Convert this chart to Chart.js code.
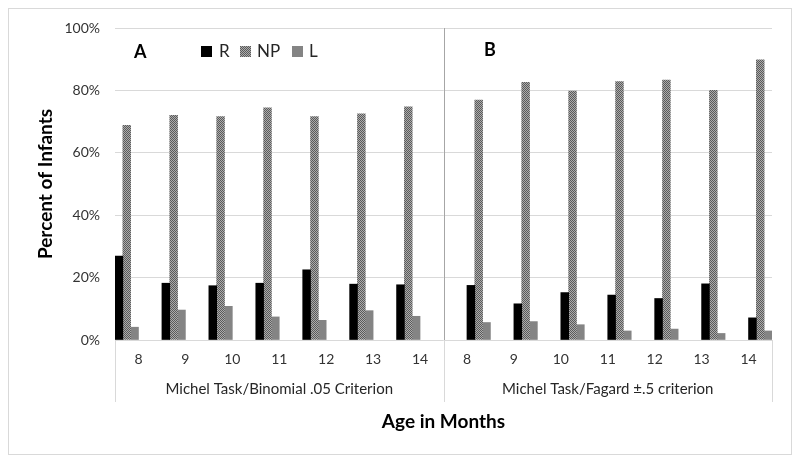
<!DOCTYPE html>
<html>
<head>
<meta charset="utf-8">
<script src="https://cdn.jsdelivr.net/npm/chart.js@4"></script>
<style>
html,body{margin:0;padding:0;background:#fff;}
#c{display:block;}
</style>
</head>
<body>
<canvas id="c" width="800" height="463"></canvas>
<script>
// ---- data ----
const ages = ['8','9','10','11','12','13','14'];
const rA  = [26.9, 18.2, 17.4, 18.2, 22.5, 17.9, 17.7];
const npA = [68.8, 72.0, 71.6, 74.4, 71.6, 72.5, 74.7];
const lA  = [4.1, 9.6, 10.8, 7.4, 6.3, 9.4, 7.6];
const rB  = [17.5, 11.6, 15.2, 14.4, 13.3, 18.0, 7.1];
const npB = [76.9, 82.6, 79.8, 82.8, 83.3, 80.0, 89.8];
const lB  = [5.6, 5.9, 4.9, 2.9, 3.5, 2.1, 2.9];
const seriesNames = ['R', 'NP', 'L'];
const panelTitles = ['A', 'B'];
const groupLabels = ['Michel Task/Binomial .05 Criterion', 'Michel Task/Fagard \u00b1.5 criterion'];
const yTickValues = [0, 20, 40, 60, 80, 100];
const yTitle = 'Percent of Infants';
const xTitle = 'Age in Months';

// ---- styles ----
const FONT = 'Lato, "Open Sans", sans-serif';
function makePattern() {
  const p = document.createElement('canvas');
  p.width = 2; p.height = 2;
  const g = p.getContext('2d');
  g.fillStyle = '#acacac'; g.fillRect(0, 0, 2, 2);
  g.fillStyle = '#5a5a5a'; g.fillRect(0, 0, 1, 1); g.fillRect(1, 1, 1, 1);
  return document.getElementById('c').getContext('2d').createPattern(p, 'repeat');
}
const npFill = makePattern();
const colors = ['#000000', npFill, '#848484'];

const labels = ages.concat(ages);
const blanks = ages.map(() => null);
const seriesA = [rA, npA, lA];
const seriesB = [rB, npB, lB];
const datasets = [];
seriesA.forEach((d, i) => datasets.push({label: seriesNames[i], data: d.concat(blanks), backgroundColor: colors[i], borderWidth: 0}));
seriesB.forEach((d, i) => datasets.push({label: seriesNames[i], data: blanks.concat(d), backgroundColor: colors[i], borderWidth: 0}));

const decor = {
  id: 'decor',
  beforeDraw(chart) {
    const ctx = chart.ctx;
    ctx.save();
    ctx.fillStyle = '#ffffff';
    ctx.fillRect(0, 0, chart.width, chart.height);
    ctx.strokeStyle = '#d9d9d9';
    ctx.lineWidth = 1;
    ctx.strokeRect(8.5, 8.5, 783, 446);
    ctx.restore();
  },
  afterDraw(chart) {
    const ctx = chart.ctx;
    const ca = chart.chartArea;
    const step = (ca.right - ca.left) / labels.length;
    const mid = ca.left + step * ages.length;
    ctx.save();
    // separators below axis
    ctx.strokeStyle = '#d9d9d9';
    ctx.lineWidth = 1;
    [ca.left, mid, ca.right].forEach(px => {
      const xx = Math.round(px) + 0.5;
      ctx.beginPath(); ctx.moveTo(xx, ca.bottom); ctx.lineTo(xx, 402); ctx.stroke();
    });
    // divider in plot
    ctx.strokeStyle = '#a6a6a6';
    const mx = Math.round(mid) + 0.5;
    ctx.beginPath(); ctx.moveTo(mx, ca.top); ctx.lineTo(mx, ca.bottom); ctx.stroke();
    // group labels
    ctx.fillStyle = '#262626';
    ctx.font = '15px ' + FONT;
    ctx.textAlign = 'center';
    ctx.textBaseline = 'middle';
    ctx.fillText(groupLabels[0], (ca.left + mid) / 2, 389);
    ctx.fillText(groupLabels[1], (mid + ca.right) / 2, 389);
    // panel titles
    ctx.fillStyle = '#000000';
    ctx.font = 'bold 18px ' + FONT;
    ctx.textAlign = 'left';
    ctx.fillText(panelTitles[0], 134, 52);
    ctx.fillText(panelTitles[1], 484, 50);
    // legend
    const legX = [201, 240, 292];
    const txtX = [219, 257, 309];
    ctx.font = '17px ' + FONT;
    for (let i = 0; i < 3; i++) {
      ctx.fillStyle = colors[i];
      ctx.fillRect(legX[i], 46, 11, 11);
      ctx.fillStyle = '#262626';
      ctx.fillText(seriesNames[i], txtX[i], 52);
    }
    ctx.restore();
  }
};

new Chart(document.getElementById('c'), {
  type: 'bar',
  data: {labels: labels, datasets: datasets},
  options: {
    responsive: false,
    devicePixelRatio: 1,
    animation: false,
    layout: {padding: {top: 28, right: 28, left: 0, bottom: 0}},
    plugins: {legend: {display: false}, tooltip: {enabled: false}},
    datasets: {bar: {categoryPercentage: 1.0, barPercentage: 1.0}},
    scales: {
      x: {
        grid: {display: false, drawTicks: false},
        border: {display: false},
        ticks: {color: '#333333', font: {family: FONT, size: 14}, padding: 11, maxRotation: 0, autoSkip: false},
        title: {display: true, text: xTitle, color: '#000000', font: {family: FONT, size: 19, weight: 'bold'}, padding: {top: 0, bottom: 30}},
        afterFit(s) { s.height = 123; }
      },
      y: {
        min: 0, max: 100,
        afterBuildTicks(s) { s.ticks = yTickValues.map(v => ({value: v})); },
        grid: {color: '#d9d9d9', drawTicks: false},
        border: {display: false},
        ticks: {color: '#333333', font: {family: FONT, size: 14}, padding: 15, callback: v => v + '%'},
        title: {display: true, text: yTitle, color: '#000000', font: {family: FONT, size: 19, weight: 'bold'}, padding: {top: 34, bottom: 0}},
        afterFit(s) { s.width = 115; }
      }
    }
  },
  plugins: [decor]
});
</script>
</body>
</html>
